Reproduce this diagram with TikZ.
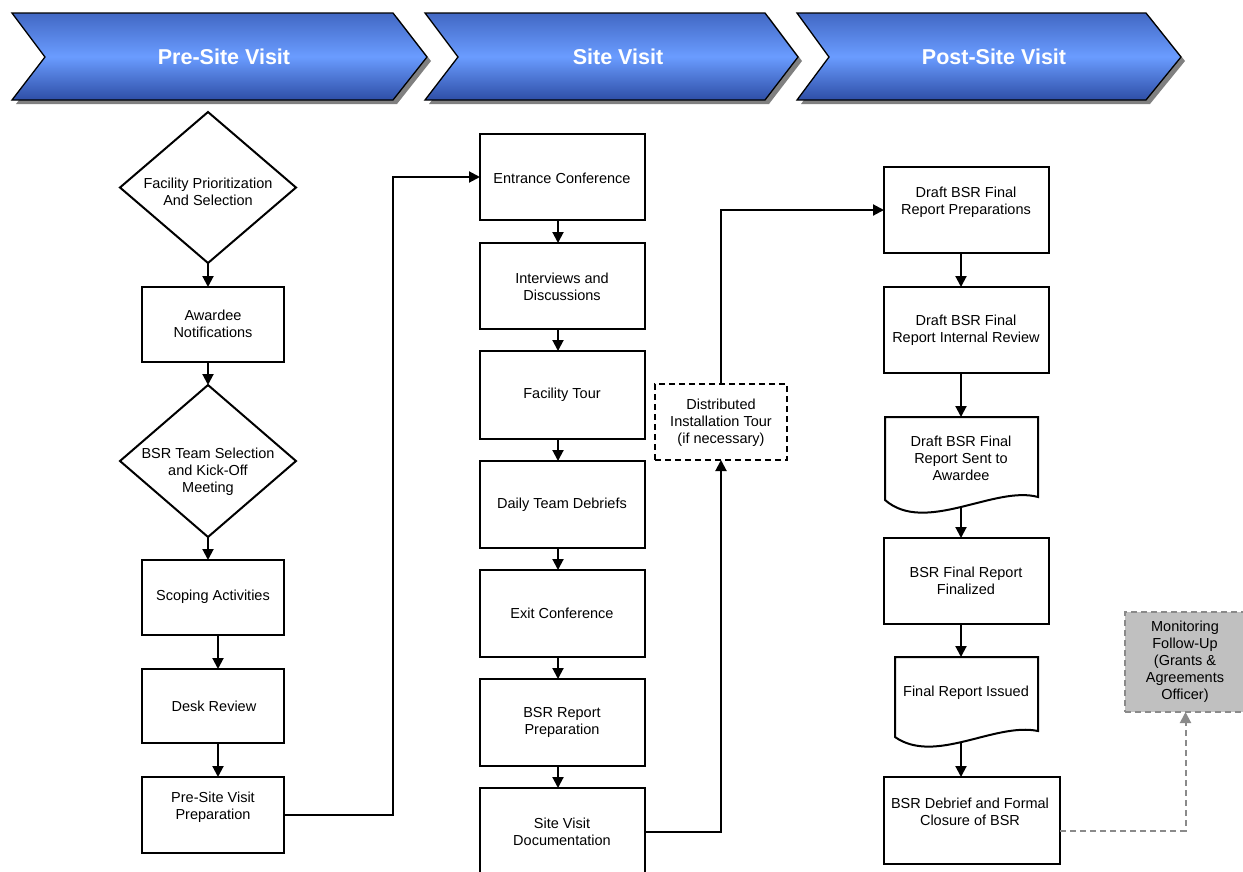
\documentclass[tikz,border=0pt]{standalone}
\usepackage{fontspec}
\setmainfont{Liberation Sans}
\usetikzlibrary{arrows.meta,calc,shapes.geometric}

\definecolor{chevtop}{HTML}{4268C4}
\definecolor{chevmid}{HTML}{6A9CFF}
\definecolor{chevbot}{HTML}{2E4EA6}
\definecolor{grayfill}{HTML}{C0C0C0}
\definecolor{grayline}{HTML}{8A8A8A}

\begin{document}
\begin{tikzpicture}[x=1pt,y=-1pt,
  frame/.style={draw=black,line width=2pt,inner sep=0pt,outer sep=0pt},
  dashbox/.style={frame,dash pattern=on 6pt off 4pt},
  graybox/.style={draw=grayline,fill=grayfill,line width=2pt,dash pattern=on 6pt off 4pt,inner sep=0pt,outer sep=0pt},
  ghost/.style={inner sep=0pt,outer sep=0pt},
  lbl/.style={font=\fontsize{14.5}{17}\selectfont,align=center,inner sep=0pt},
  head/.style={font=\fontsize{21.5}{24}\selectfont\bfseries,text=white,inner sep=0pt},
  arr/.style={line width=2pt,-{Triangle[length=11pt,width=11pt]}},
  garr/.style={draw=grayline,line width=2pt,dash pattern=on 6pt off 4pt,-{Triangle[length=11pt,width=11pt,fill=grayline]}},
  chev/.style={draw=black,line width=1.3pt,top color=chevtop,bottom color=chevbot,middle color=chevmid},
  chevshadow/.style={fill=black!50}
]
\useasboundingbox (0,0) rectangle (1243,871);

% ---- phase banners ----
\foreach \l/\n/\r/\t in {12/45/393/427, 425/458/765/798, 797/829/1146/1181}{
  \fill[chevshadow,shift={(4,4)}] (\l,13) -- (\r,13) -- (\t,57) -- (\r,100) -- (\l,100) -- (\n,57) -- cycle;
  \shade[chev] (\l,13) -- (\r,13) -- (\t,57) -- (\r,100) -- (\l,100) -- (\n,57) -- cycle;
}
\node[head] (h1) at (224,57) {Pre-Site Visit};
\node[head] (h2) at (618,57) {Site Visit};
\node[head] (h3) at (994,57) {Post-Site Visit};

% ---- pre-site column ----
\node[frame,diamond,minimum width=176pt,minimum height=151pt] (d1) at (208,187.5) {};
\node[lbl] (d1t) at (208,192) {Facility Prioritization\\And Selection};
\node[frame,minimum width=142pt,minimum height=75pt] (aw) at (213,324.5) {};
\node[lbl] (awt) at (213,324) {Awardee\\Notifications};
\node[frame,diamond,minimum width=176pt,minimum height=152pt] (d2) at (208,461) {};
\node[lbl] (d2t) at (208,472) {BSR Team Selection\\and Kick-Off\\Meeting};
\node[frame,minimum width=142pt,minimum height=75pt] (sc) at (213,597.5) {};
\node[lbl] (sct) at (213,597) {Scoping Activities};
\node[frame,minimum width=142pt,minimum height=74pt] (dr) at (213,706) {};
\node[lbl] (drt) at (214,706) {Desk Review};
\node[frame,minimum width=142pt,minimum height=76pt] (pp) at (213,815) {};
\node[lbl] (ppt) at (213,807) {Pre-Site Visit\\Preparation};

% ---- site visit column ----
\node[frame,minimum width=165pt,minimum height=86pt] (ec) at (562.5,177) {};
\node[lbl] (ect) at (562,178) {Entrance Conference};
\node[frame,minimum width=165pt,minimum height=86pt] (iv) at (562.5,286) {};
\node[lbl] (ivt) at (562,287) {Interviews and\\Discussions};
\node[frame,minimum width=165pt,minimum height=88pt] (ft) at (562.5,395) {};
\node[lbl] (ftt) at (562,395) {Facility Tour};
\node[frame,minimum width=165pt,minimum height=87pt] (db) at (562.5,504.5) {};
\node[lbl] (dbt) at (562,505) {Daily Team Debriefs};
\node[frame,minimum width=165pt,minimum height=87pt] (xc) at (562.5,613.5) {};
\node[lbl] (xct) at (562,613) {Exit Conference};
\node[frame,minimum width=165pt,minimum height=87pt] (rp) at (562.5,722.5) {};
\node[lbl] (rpt) at (562,722) {BSR Report\\Preparation};
\node[frame,minimum width=165pt,minimum height=92pt] (sv) at (562.5,834) {};
\node[lbl] (svt) at (562,832) {Site Visit\\Documentation};
\node[dashbox,minimum width=132pt,minimum height=76pt] (dt) at (721,422) {};
\node[lbl] (dtt) at (721,423) {Distributed\\Installation Tour\\(if necessary)};

% ---- post-site column ----
\node[frame,minimum width=165pt,minimum height=86pt] (fp) at (966.5,210) {};
\node[lbl] (fpt) at (966,202) {Draft BSR Final\\Report Preparations};
\node[frame,minimum width=165pt,minimum height=86pt] (ir) at (966.5,330) {};
\node[lbl] (irt) at (966,330) {Draft BSR Final\\Report Internal Review};
\draw[line width=2pt] (885,417) -- (1038,417) -- (1038,497)
  .. controls (995,485) and (925,535) .. (885,500) -- cycle;
\node[ghost,minimum width=153pt,minimum height=90pt] (sa) at (961.5,462) {};
\node[lbl] (sat) at (961,458) {Draft BSR Final\\Report Sent to\\Awardee};
\node[frame,minimum width=165pt,minimum height=86pt] (fz) at (966.5,581) {};
\node[lbl] (fzt) at (966,581) {BSR Final Report\\Finalized};
\draw[line width=2pt] (895,657) -- (1038,657) -- (1038,731)
  .. controls (995,722) and (935,765) .. (895,737) -- cycle;
\node[ghost,minimum width=143pt,minimum height=85pt] (fi) at (966.5,699.5) {};
\node[lbl] (fit) at (966,693) {Final Report Issued};
\node[frame,minimum width=176pt,minimum height=87pt] (cl) at (972,820.5) {};
\node[lbl] (clt) at (970,812) {BSR Debrief and Formal\\Closure of BSR};
\node[graybox,minimum width=121pt,minimum height=100pt] (mf) at (1185.5,662) {};
\node[lbl] (mft) at (1185,662) {Monitoring\\Follow-Up\\(Grants \&\\Agreements\\Officer)};

% ---- arrow columns ----
\coordinate (lx) at (218,0);
\coordinate (mx) at (558,0);
\coordinate (rx) at (961,0);

% ---- connectors ----
\draw[arr] (d1.south) -- (d1.south |- aw.north);
\draw[arr] (aw.south -| d2.north) -- (d2.north);
\draw[arr] (d2.south) -- (d2.south |- sc.north);
\draw[arr] (sc.south -| lx) -- (dr.north -| lx);
\draw[arr] (dr.south -| lx) -- (pp.north -| lx);
\draw[arr] (pp.east) -- ++(109,0) |- (ec.west);

\draw[arr] (ec.south -| mx) -- (iv.north -| mx);
\draw[arr] (iv.south -| mx) -- (ft.north -| mx);
\draw[arr] (ft.south -| mx) -- (db.north -| mx);
\draw[arr] (db.south -| mx) -- (xc.north -| mx);
\draw[arr] (xc.south -| mx) -- (rp.north -| mx);
\draw[arr] (rp.south -| mx) -- (sv.north -| mx);
\draw[arr] ([yshift=2pt]sv.east) -| (dt.south);
\draw[arr] (dt.north) |- (fp.west);

\draw[arr] (fp.south -| rx) -- (ir.north -| rx);
\draw[arr] (ir.south -| rx) -- (sa.north -| rx);
\draw[arr] (sa.south -| rx) -- (fz.north -| rx);
\draw[arr] (fz.south -| rx) -- (fi.north -| rx);
\draw[arr] (fi.south -| rx) -- (cl.north -| rx);
\draw[garr] ([yshift=-10pt]cl.east) -| (mf.south);
\end{tikzpicture}
\end{document}
